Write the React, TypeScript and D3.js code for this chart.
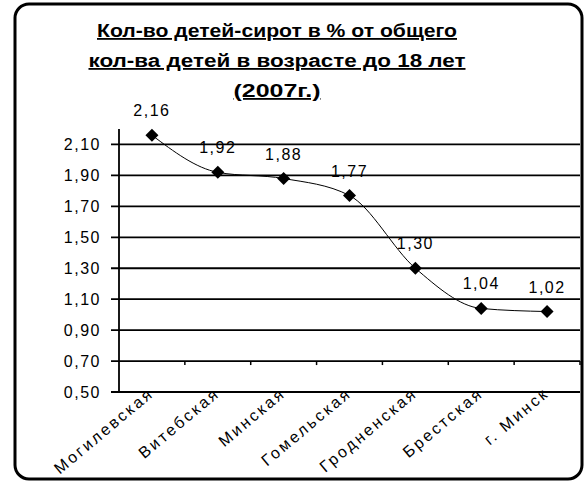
import React from 'react';
import * as d3 from 'd3';

const regions = ['Могилевская', 'Витебская', 'Минская', 'Гомельская', 'Гродненская', 'Брестская', 'г. Минск'];
const shares = [2.16, 1.92, 1.88, 1.77, 1.30, 1.04, 1.02];
const yTicks = [0.5, 0.7, 0.9, 1.1, 1.3, 1.5, 1.7, 1.9, 2.1];
const titleLines = ['Кол-во детей-сирот в % от общего ', 'кол-ва детей в возрасте до 18 лет', '(2007г.)'];
const titleWidths = [360, 377, 87];

const W = 585;
const H = 484;
const plot = { left: 119, right: 580, top: 129, bottom: 392 };
const font = '"Liberation Sans", Arial, sans-serif';

const fmt = (v: number) => v.toFixed(2).replace('.', ',');

export default function App() {
  const x = d3.scaleBand<string>().domain(regions).range([plot.left, plot.right]);
  const y = d3.scaleLinear().domain([0.5, 2.2]).range([plot.bottom, plot.top]);
  const cx = (r: string) => (x(r) ?? 0) + x.bandwidth() / 2;

  const pts: [number, number][] = regions.map((r, i) => [cx(r), y(shares[i])]);
  const line = d3.line().curve(d3.curveMonotoneX)(pts) ?? '';
  const d = 6.5;

  // small ticks under the 0,70 line, like the source
  const boundaries = regions.map((r) => (x(r) ?? 0) + x.bandwidth());

  return (
    <svg width={W} height={H} style={{ position: 'absolute', left: 0, top: 0, background: '#fff' }}>
      <rect x={15} y={4} width={567} height={475} rx={14} fill="#fff" stroke="#000" strokeWidth={3} />

      {titleLines.map((t, i) => (
        <text
          key={t}
          x={277}
          y={37 + i * 30}
          textAnchor="middle"
          fontFamily={font}
          fontWeight="bold"
          fontSize={18}
          textLength={titleWidths[i]}
          lengthAdjust="spacingAndGlyphs"
          textDecoration="underline"
        >
          {t}
        </text>
      ))}

      {yTicks.map((t) => (
        <g key={t}>
          <line x1={plot.left - 8} x2={plot.right} y1={y(t)} y2={y(t)} stroke="#000" strokeWidth={1.8} />
          <text
            x={101}
            y={y(t) + 5.5}
            textAnchor="end"
            fontFamily={font}
            fontSize={16}
            letterSpacing={1.5}
          >
            {fmt(t)}
          </text>
        </g>
      ))}

      <line x1={plot.left} x2={plot.left} y1={plot.top} y2={plot.bottom} stroke="#000" strokeWidth={1.8} />

      {boundaries.map((b) => (
        <line key={b} x1={b} x2={b} y1={y(0.7)} y2={y(0.7) + 4} stroke="#000" strokeWidth={1.5} />
      ))}

      <path d={line} fill="none" stroke="#000" strokeWidth={1} />

      {pts.map(([px, py], i) => (
        <g key={regions[i]}>
          <path d={`M${px},${py - d}L${px + d},${py}L${px},${py + d}L${px - d},${py}Z`} fill="#000" />
          <text
            x={px}
            y={py - 19}
            textAnchor="middle"
            fontFamily={font}
            fontSize={16}
            letterSpacing={1.5}
          >
            {fmt(shares[i])}
          </text>
        </g>
      ))}

      {regions.map((r) => (
        <text
          key={r}
          transform={`translate(${cx(r) + 3},${plot.bottom + 3}) rotate(-40)`}
          textAnchor="end"
          fontFamily={font}
          fontSize={16}
          letterSpacing={2.5}
        >
          {r}
        </text>
      ))}
    </svg>
  );
}
